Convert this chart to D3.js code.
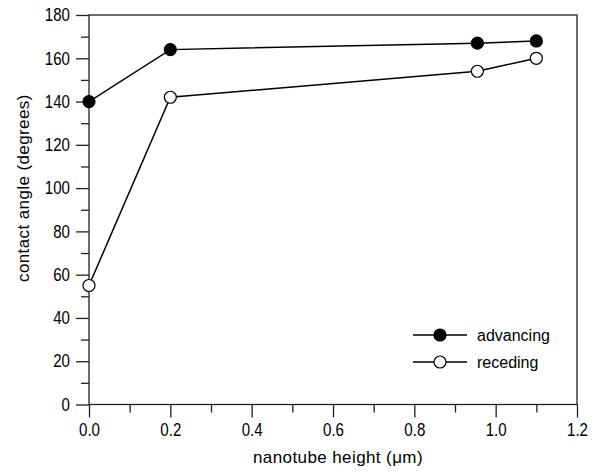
<!DOCTYPE html>
<html lang="en">
<head>
<meta charset="UTF-8">
<title>Contact angle vs nanotube height</title>
<script src="https://d3js.org/d3.v7.min.js"></script>
<style>
  body { margin: 0; background: #fff; }
  svg text { font-family: "Liberation Sans", Arial, sans-serif; fill: #000; }
  .tick text { font-size: 18px; }
  .axis-label { font-size: 17px; letter-spacing: 0.4px; }
  .legend text { font-size: 16px; }
</style>
</head>
<body>
<div id="chart"></div>
<script>
// data
const heights = [0, 0.2, 0.955, 1.1];
const advancing = [140, 164, 167, 168];
const receding = [55, 142, 154, 160];
const seriesNames = ["advancing", "receding"];
const xTicks = [0, 0.2, 0.4, 0.6, 0.8, 1.0, 1.2];
const yTicks = [0, 20, 40, 60, 80, 100, 120, 140, 160, 180];

const width = 598, height = 472;
const margin = { top: 15, right: 21, bottom: 67.5, left: 89 };
const innerWidth = width - margin.left - margin.right;
const innerHeight = height - margin.top - margin.bottom;
const squeeze = 0.84; // tick labels in the original are a narrow face

const svg = d3.select("#chart").append("svg")
    .attr("width", width)
    .attr("height", height);

const g = svg.append("g")
    .attr("transform", `translate(${margin.left},${margin.top})`);

const x = d3.scaleLinear().domain([0, 1.2]).range([0, innerWidth]);
const y = d3.scaleLinear().domain([0, 180]).range([innerHeight, 0]);

// frame
g.append("rect")
    .attr("width", innerWidth)
    .attr("height", innerHeight)
    .attr("fill", "none")
    .attr("stroke", "#222")
    .attr("stroke-width", 1.3);

// minor ticks (no labels)
const xMinor = d3.range(0.1, 1.2, 0.2);
const yMinor = d3.range(10, 180, 20);

g.append("g")
    .attr("transform", `translate(0,${innerHeight})`)
    .call(d3.axisBottom(x).tickValues(xMinor).tickSize(8).tickFormat(""))
    .call(s => s.select(".domain").remove())
    .call(s => s.selectAll("text").remove())
    .selectAll("line").attr("stroke", "#222").attr("stroke-width", 1.3);

g.append("g")
    .call(d3.axisLeft(y).tickValues(yMinor).tickSize(8).tickFormat(""))
    .call(s => s.select(".domain").remove())
    .call(s => s.selectAll("text").remove())
    .selectAll("line").attr("stroke", "#222").attr("stroke-width", 1.3);

// major ticks
const xAxis = g.append("g")
    .attr("transform", `translate(0,${innerHeight})`)
    .call(d3.axisBottom(x).tickValues(xTicks).tickSize(13).tickPadding(6).tickFormat(d3.format(".1f")));
xAxis.select(".domain").remove();
xAxis.selectAll("line").attr("stroke", "#222").attr("stroke-width", 1.3);
xAxis.selectAll("text").attr("transform", `scale(${squeeze},1)`);

const yAxis = g.append("g")
    .call(d3.axisLeft(y).tickValues(yTicks).tickSize(13).tickPadding(6).tickFormat(d3.format("d")));
yAxis.select(".domain").remove();
yAxis.selectAll("line").attr("stroke", "#222").attr("stroke-width", 1.3);
yAxis.selectAll("text")
    .attr("x", -19 / squeeze)
    .attr("transform", `scale(${squeeze},1)`);

// axis labels
svg.append("text")
    .attr("class", "axis-label")
    .attr("x", 338)
    .attr("y", 463)
    .attr("text-anchor", "middle")
    .text("nanotube height (μm)");

svg.append("text")
    .attr("class", "axis-label")
    .attr("transform", `translate(29,${margin.top + y(100)}) rotate(-90)`)
    .attr("text-anchor", "middle")
    .text("contact angle (degrees)");

// series
const series = [
    { name: seriesNames[0], values: advancing, fill: "#000" },
    { name: seriesNames[1], values: receding, fill: "#fff" }
];

const line = d3.line()
    .x(d => x(d[0]))
    .y(d => y(d[1]));

series.forEach(s => {
    const pts = heights.map((h, i) => [h, s.values[i]]);
    g.append("path")
        .datum(pts)
        .attr("fill", "none")
        .attr("stroke", "#000")
        .attr("stroke-width", 1.5)
        .attr("d", line);
    g.selectAll(null)
        .data(pts)
        .enter().append("circle")
        .attr("cx", d => x(d[0]))
        .attr("cy", d => y(d[1]))
        .attr("r", 6)
        .attr("fill", s.fill)
        .attr("stroke", "#000")
        .attr("stroke-width", 1.2);
});

// legend
const legend = svg.append("g").attr("class", "legend")
    .attr("transform", "translate(413,335)");

series.forEach((s, i) => {
    const row = legend.append("g").attr("transform", `translate(0,${i * 27})`);
    row.append("line")
        .attr("x1", 0).attr("x2", 54)
        .attr("stroke", "#000").attr("stroke-width", 1.5);
    row.append("circle")
        .attr("cx", 27).attr("r", 6)
        .attr("fill", s.fill)
        .attr("stroke", "#000").attr("stroke-width", 1.2);
    row.append("text")
        .attr("x", 64)
        .attr("dy", "0.35em")
        .text(s.name);
});
</script>
</body>
</html>
